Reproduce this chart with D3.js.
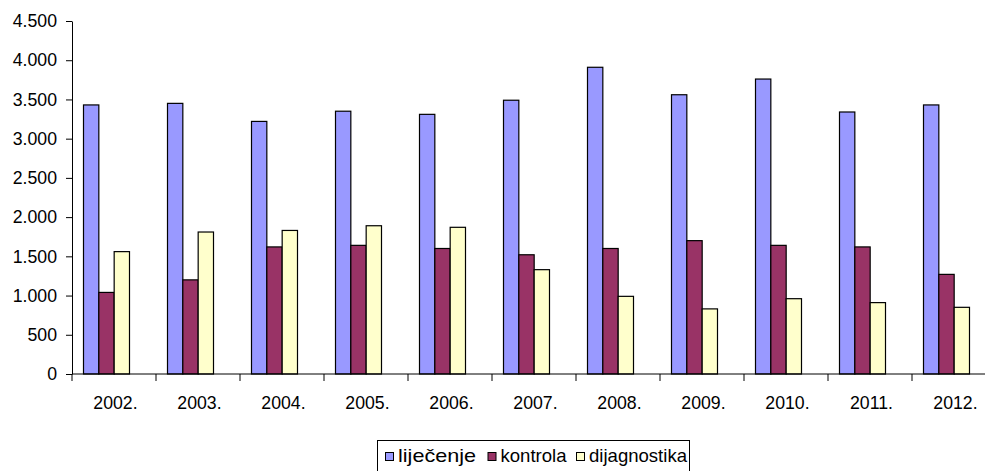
<html>
<head>
<meta charset="utf-8">
</head>
<body style="margin: 0 0 0 0; background: #fff;">
<svg id="chart"></svg>
<script src="https://cdnjs.cloudflare.com/ajax/libs/d3/7.8.5/d3.min.js"></script>
<script type="text/javascript">

// data
var years = ["2002.", "2003.", "2004.", "2005.", "2006.", "2007.", "2008.", "2009.", "2010.", "2011.", "2012."]
var lijecenje = [3430, 3450, 3220, 3350, 3310, 3490, 3910, 3560, 3760, 3340, 3430]
var kontrola = [1040, 1200, 1620, 1640, 1600, 1520, 1600, 1700, 1640, 1620, 1270]
var dijagnostika = [1560, 1810, 1830, 1890, 1870, 1330, 990, 830, 960, 910, 850]
var seriesNames = ["liječenje", "kontrola", "dijagnostika"]
var seriesColors = ["#9999ff", "#993366", "#ffffcc"]
var yTicks = [0, 500, 1000, 1500, 2000, 2500, 3000, 3500, 4000, 4500]

var W = 985, H = 471
var font = "Arial, 'Liberation Sans', sans-serif"
var fs = "17.7px"

var svg = d3.select("#chart")
  .attr("width", W)
  .attr("height", H)
  .style("font-family", font)

var locale = d3.formatLocale({ decimal: ",", thousands: ".", grouping: [3], currency: ["", ""] })
var fmt = locale.format(",d")

var x = d3.scaleBand().domain(years).range([72, 996])
var inner = d3.scaleBand().domain(seriesNames).range([11.5, 57.5])
var y = d3.scaleLinear().domain([0, 4500]).range([374, 21])

var series = seriesNames.map(function(name, i) {
  var vals = [lijecenje, kontrola, dijagnostika][i]
  return { name: name, color: seriesColors[i], values: vals }
})

// bars
var groups = svg.append("g")
  .selectAll("g")
  .data(series)
  .enter().append("g")
  .attr("fill", function(d) { return d.color })

groups.selectAll("rect")
  .data(function(d) { return d.values.map(function(v, j) { return { name: d.name, year: years[j], v: v } }) })
  .enter().append("rect")
  .attr("x", function(d) { return x(d.year) + inner(d.name) })
  .attr("y", function(d) { return y(d.v) })
  .attr("width", inner.bandwidth())
  .attr("height", function(d) { return y(0) - y(d.v) })
  .attr("stroke", "#000")
  .attr("stroke-width", 1.2)

// y axis
var yAxis = svg.append("g")
  .attr("transform", "translate(72,0)")
  .call(d3.axisLeft(y).tickValues(yTicks).tickFormat(fmt).tickSize(6).tickSizeOuter(0).tickPadding(9))
yAxis.selectAll("text").style("font-size", fs).style("font-family", font).attr("fill", "#000")
yAxis.selectAll("line, path").attr("stroke", "#000")

// x axis
var xg = svg.append("g")
xg.append("line")
  .attr("x1", 72).attr("x2", 996)
  .attr("y1", y(0)).attr("y2", y(0))
  .attr("stroke", "#000")
var bounds = years.map(function(d) { return x(d) }).concat([x.range()[1]])
xg.selectAll("line.tk")
  .data(bounds)
  .enter().append("line")
  .attr("class", "tk")
  .attr("x1", function(d) { return d }).attr("x2", function(d) { return d })
  .attr("y1", y(0)).attr("y2", y(0) + 7)
  .attr("stroke", "#000")
xg.selectAll("text")
  .data(years)
  .enter().append("text")
  .attr("x", function(d) { return x(d) + x.bandwidth() / 2 + 1.5 })
  .attr("y", 409)
  .attr("text-anchor", "middle")
  .style("font-size", fs)
  .text(function(d) { return d })

// legend
var legX = [385, 487.5, 576]
var legW = [78, 66, 98]
var leg = svg.append("g")
leg.append("rect")
  .attr("x", 377.5).attr("y", 440.5)
  .attr("width", 312).attr("height", 40)
  .attr("fill", "#fff")
  .attr("stroke", "#000")
series.forEach(function(s, i) {
  leg.append("rect")
    .attr("x", legX[i] + 0.5).attr("y", 452.5)
    .attr("width", 8).attr("height", 8)
    .attr("fill", s.color)
    .attr("stroke", "#000")
  leg.append("text")
    .attr("x", legX[i] + 13)
    .attr("y", 462)
    .attr("textLength", legW[i])
    .attr("lengthAdjust", "spacingAndGlyphs")
    .style("font-size", "18.5px")
    .text(s.name)
})

</script>
</body>
</html>
